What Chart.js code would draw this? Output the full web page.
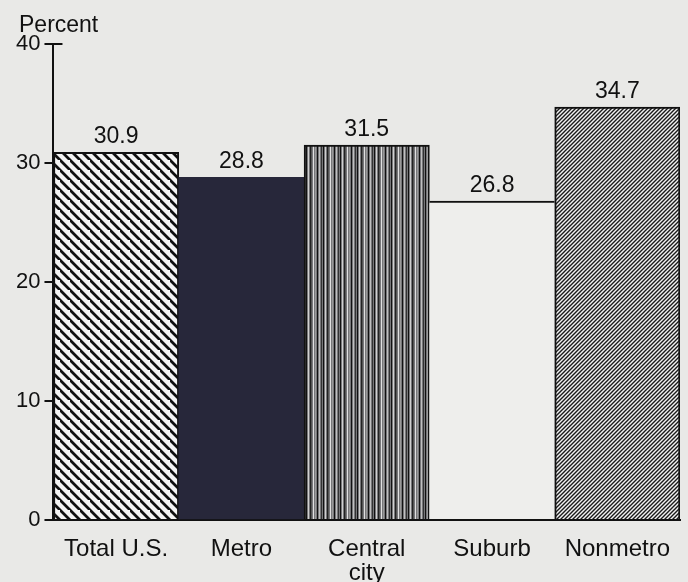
<!DOCTYPE html>
<html>
<head>
<meta charset="utf-8">
<script src="https://cdn.jsdelivr.net/npm/chart.js@4"></script>
<style>
  html, body { margin: 0; padding: 0; background: #e9e9e7; }
  #wrap { width: 688px; height: 582px; position: relative; }
</style>
</head>
<body>
<div id="wrap"><canvas id="chart"></canvas></div>
<script>
const categories = ["Total U.S.", "Metro", ["Central", "city"], "Suburb", "Nonmetro"];
const values = [30.9, 28.8, 31.5, 26.8, 34.7];
const yTicks = [0, 10, 20, 30, 40];
const yTitle = "Percent";

const FONT = "'Liberation Sans', Arial, Helvetica, sans-serif";

function makePattern(w, h, draw) {
  const c = document.createElement("canvas");
  c.width = w;
  c.height = h;
  const g = c.getContext("2d");
  draw(g, w, h);
  return g.createPattern(c, "repeat");
}

// "\\\\" hatch for Total U.S.
const hatchBack = makePattern(10, 10, (g, w, h) => {
  g.fillStyle = "#f4f4f4";
  g.fillRect(0, 0, w, h);
  g.strokeStyle = "#111";
  g.lineWidth = 2.8;
  g.beginPath();
  g.moveTo(-2, -2); g.lineTo(w + 2, h + 2);
  g.moveTo(-w - 2, -2); g.lineTo(2, h + 2);
  g.moveTo(w - 2, -h - 2); g.lineTo(2 * w + 2, h + 2);
  g.stroke();
});

// fine "////" hatch for Nonmetro
const hatchFwd = makePattern(4, 4, (g, w, h) => {
  g.fillStyle = "#f2f2f2";
  g.fillRect(0, 0, w, h);
  g.strokeStyle = "#1a1a1a";
  g.lineWidth = 1.4;
  g.beginPath();
  g.moveTo(-1, h + 1); g.lineTo(w + 1, -1);
  g.moveTo(-1, 1); g.lineTo(1, -1);
  g.moveTo(w - 1, h + 1); g.lineTo(w + 1, h - 1);
  g.stroke();
});

// vertical stripes for Central city
const stripes = makePattern(17, 1, (g, w, h) => {
  g.fillStyle = "#77777a";
  g.fillRect(0, 0, w, h);
  const cols = [[0, "#111"], [2, "#d0d0d0"], [4, "#222"], [5, "#555"], [7, "#e0e0e0"], [9, "#999"], [11, "#111"], [13, "#c0c0c0"], [15, "#333"]];
  cols.forEach(([x, col]) => { g.fillStyle = col; g.fillRect(x, 0, 1, h); });
});

const fills = [hatchBack, "#27273a", stripes, "#eeeeec", hatchFwd];
const borders = [2, 0, 2, { top: 2, left: 0, right: 0, bottom: 0 }, 2];

const extras = {
  id: "extras",
  afterDraw(chart) {
    const { ctx, chartArea, scales } = chart;
    ctx.save();
    // axis title
    ctx.fillStyle = "#111";
    ctx.font = "23px " + FONT;
    ctx.textAlign = "left";
    ctx.textBaseline = "alphabetic";
    ctx.fillText(yTitle, 19, 32);
    // T cap on the axis top
    const yTop = scales.y.getPixelForValue(yTicks[yTicks.length - 1]);
    ctx.strokeStyle = "#111";
    ctx.lineWidth = 2;
    ctx.beginPath();
    ctx.moveTo(chartArea.left, yTop);
    ctx.lineTo(chartArea.left + 9, yTop);
    ctx.stroke();
    // value labels
    ctx.font = "23px " + FONT;
    ctx.textAlign = "center";
    const meta = chart.getDatasetMeta(0);
    meta.data.forEach((bar, i) => {
      ctx.fillText(values[i].toFixed(1), bar.x, bar.y - 9);
    });
    ctx.restore();
  }
};

new Chart(document.getElementById("chart"), {
  type: "bar",
  data: {
    labels: categories,
    datasets: [{
      data: values,
      backgroundColor: fills,
      borderColor: "#111",
      borderWidth: borders,
      borderSkipped: "bottom",
      barPercentage: 1,
      categoryPercentage: 1,
    }],
  },
  options: {
    responsive: true,
    maintainAspectRatio: false,
    animation: false,
    layout: { padding: { left: 12, right: 8, top: 44, bottom: 0 } },
    plugins: { legend: { display: false }, tooltip: { enabled: false } },
    scales: {
      x: {
        grid: { display: false },
        border: { display: true, color: "#111", width: 2 },
        ticks: { color: "#111", font: { family: FONT, size: 24, lineHeight: 1.0 }, padding: 9, maxRotation: 0, autoSkip: false },
        afterFit: (axis) => { axis.height = 62; },
      },
      y: {
        min: 0,
        max: 40,
        afterBuildTicks: (axis) => { axis.ticks = yTicks.map((v) => ({ value: v })); },
        grid: { drawOnChartArea: false, color: "#111", lineWidth: 2, tickLength: 9 },
        border: { display: true, color: "#111", width: 2 },
        ticks: { color: "#111", font: { family: FONT, size: 22 }, padding: 4 },
      },
    },
  },
  plugins: [extras],
});
</script>
</body>
</html>
